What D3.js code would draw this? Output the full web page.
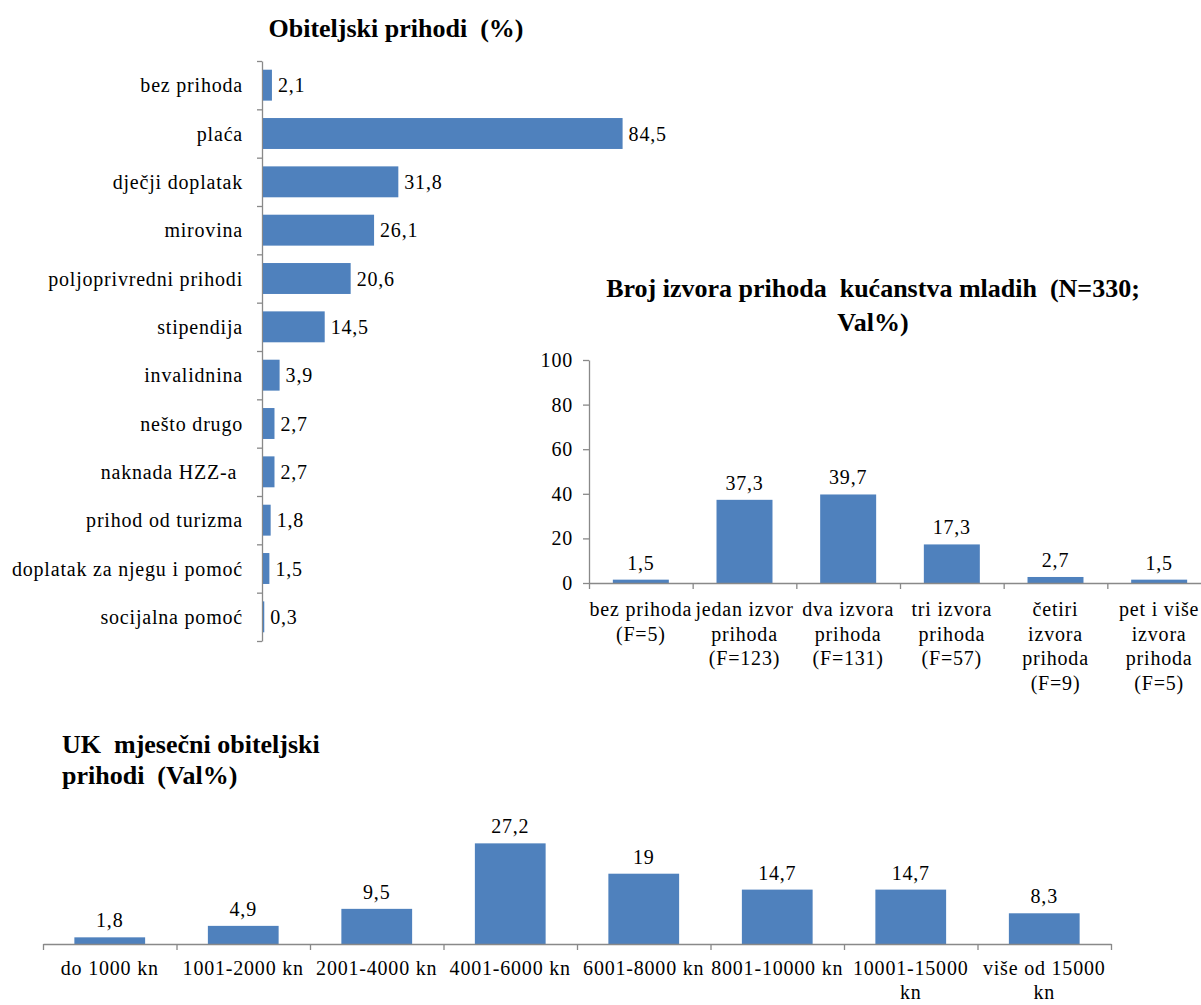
<!DOCTYPE html>
<html>
    <head>
        <meta charset="utf-8">
        <title>Obiteljski prihodi</title>
        <script type="text/javascript" src="https://cdnjs.cloudflare.com/ajax/libs/d3/7.8.5/d3.min.js"></script>
        <style>
            body { margin: 0; background: #fff; }
            .axis path, .axis line { stroke: #898989; stroke-width: 1.3; }
        </style>
    </head>
    <body>
        <script type="text/javascript">

            // chart 1: obiteljski prihodi (%)
            var incomeTypes = ["bez prihoda", "plaća", "dječji doplatak", "mirovina", "poljoprivredni prihodi",
                "stipendija", "invalidnina", "nešto drugo", "naknada HZZ-a ", "prihod od turizma",
                "doplatak za njegu i pomoć", "socijalna pomoć"];
            var incomeShare = [2.1, 84.5, 31.8, 26.1, 20.6, 14.5, 3.9, 2.7, 2.7, 1.8, 1.5, 0.3];

            // chart 2: broj izvora prihoda
            var sourceCats = [["bez prihoda", "(F=5)"], ["jedan izvor", "prihoda", "(F=123)"],
                ["dva izvora", "prihoda", "(F=131)"], ["tri izvora", "prihoda", "(F=57)"],
                ["četiri", "izvora", "prihoda", "(F=9)"], ["pet i više", "izvora", "prihoda", "(F=5)"]];
            var sourceShare = [1.5, 37.3, 39.7, 17.3, 2.7, 1.5];
            var sourceTicks = [0, 20, 40, 60, 80, 100];

            // chart 3: UK mjesecni obiteljski prihodi
            var monthlyCats = [["do 1000 kn"], ["1001-2000 kn"], ["2001-4000 kn"], ["4001-6000 kn"],
                ["6001-8000 kn"], ["8001-10000 kn"], ["10001-15000", "kn"], ["više od 15000", "kn"]];
            var monthlyShare = [1.8, 4.9, 9.5, 27.2, 19, 14.7, 14.7, 8.3];

            var barColor = "#4F81BD";
            var serif = "Liberation Serif";
            var fmt = function(v){ return String(v).replace(".", ","); };

            var svg = d3.select("body")
                .append("svg")
                .attr("width", 1201)
                .attr("height", 1005);

            // every label goes through here so the font is set on the text itself
            var label = function(sel){
                return sel.style("font-family", serif)
                    .style("font-size", "20px")
                    .style("letter-spacing", "0.8px")
                    .attr("fill", "#000");
            };

            var title = function(x, y, anchor, txt){
                svg.append("text")
                    .attr("x", x)
                    .attr("y", y)
                    .attr("text-anchor", anchor)
                    .style("font-family", serif)
                    .style("font-weight", "bold")
                    .style("font-size", "26px")
                    .style("white-space", "pre")
                    .text(txt);
            };

            // ---------- chart 1 ----------
            var x1 = d3.scaleLinear().domain([0, 90]).range([262, 645]);
            var y1 = d3.scaleBand()
                .domain(incomeTypes)
                .range([61, 641])
                .paddingInner(0.36)
                .paddingOuter(0.18);
            var y1b = d3.scaleLinear().domain([0, incomeTypes.length]).range([61, 641]);

            title(396, 37, "middle", "Obiteljski prihodi  (%)");

            svg.append("g")
                .attr("class", "axis")
                .attr("transform", "translate(262,0)")
                .call(d3.axisLeft(y1b)
                    .tickValues(d3.range(incomeTypes.length + 1))
                    .tickFormat("")
                    .tickSizeInner(5)
                    .tickSizeOuter(0));

            var g1 = svg.selectAll(".bar1")
                .data(incomeShare)
                .enter()
                .append("g")
                .attr("class", "bar1");

            g1.append("rect")
                .attr("x", x1(0) + 1)
                .attr("y", function(d, i){ return y1(incomeTypes[i]); })
                .attr("width", function(d){ return x1(d) - x1(0); })
                .attr("height", y1.bandwidth())
                .attr("fill", barColor);

            g1.append("text")
                .call(label)
                .attr("x", function(d){ return x1(d) + 7; })
                .attr("y", function(d, i){ return y1(incomeTypes[i]) + y1.bandwidth() / 2; })
                .attr("dy", "0.35em")
                .text(fmt);

            g1.append("text")
                .call(label)
                .attr("x", 243)
                .attr("y", function(d, i){ return y1(incomeTypes[i]) + y1.bandwidth() / 2; })
                .attr("dy", "0.35em")
                .attr("text-anchor", "end")
                .style("white-space", "pre")
                .text(function(d, i){ return incomeTypes[i]; });

            // ---------- chart 2 ----------
            var y2 = d3.scaleLinear().domain([0, 100]).range([583, 360]);
            var x2 = d3.scaleBand()
                .domain(d3.range(sourceCats.length))
                .range([589, 1211])
                .paddingInner(0.46)
                .paddingOuter(0.23);
            var x2b = d3.scaleLinear().domain([0, sourceCats.length]).range([589, 1211]);

            title(873, 297, "middle", "Broj izvora prihoda  kućanstva mladih  (N=330;");
            title(873, 331, "middle", "Val%)");

            svg.append("g")
                .attr("class", "axis")
                .attr("transform", "translate(589,0)")
                .call(d3.axisLeft(y2)
                    .tickValues(sourceTicks)
                    .tickSizeInner(6)
                    .tickSizeOuter(0)
                    .tickPadding(10))
                .selectAll("text")
                .call(label);

            var g2 = svg.selectAll(".bar2")
                .data(sourceShare)
                .enter()
                .append("g")
                .attr("class", "bar2");

            g2.append("rect")
                .attr("x", function(d, i){ return x2(i); })
                .attr("y", function(d){ return y2(d); })
                .attr("width", x2.bandwidth())
                .attr("height", function(d){ return y2(0) - y2(d); })
                .attr("fill", barColor);

            g2.append("text")
                .call(label)
                .attr("x", function(d, i){ return x2(i) + x2.bandwidth() / 2; })
                .attr("y", function(d){ return y2(d) - 10; })
                .attr("text-anchor", "middle")
                .text(fmt);

            svg.append("g")
                .attr("class", "axis")
                .attr("transform", "translate(0,583)")
                .call(d3.axisBottom(x2b)
                    .tickValues(d3.range(sourceCats.length + 1))
                    .tickFormat("")
                    .tickSizeInner(6)
                    .tickSizeOuter(0));

            g2.append("text")
                .call(label)
                .attr("x", function(d, i){ return x2(i) + x2.bandwidth() / 2; })
                .attr("y", 616)
                .attr("text-anchor", "middle")
                .selectAll("tspan")
                .data(function(d, i){ return sourceCats[i]; })
                .enter()
                .append("tspan")
                .attr("x", function(){ return d3.select(this.parentNode).attr("x"); })
                .attr("dy", function(d, i){ return i == 0 ? 0 : 24.5; })
                .text(function(d){ return d; });

            // ---------- chart 3 ----------
            var y3 = d3.scaleLinear().domain([0, 30]).range([944, 833]);
            var x3 = d3.scaleBand()
                .domain(d3.range(monthlyCats.length))
                .range([43, 1111])
                .paddingInner(0.47)
                .paddingOuter(0.235);
            var x3b = d3.scaleLinear().domain([0, monthlyCats.length]).range([43, 1111]);

            title(62, 753, "start", "UK  mjesečni obiteljski");
            title(62, 784, "start", "prihodi  (Val%)");

            var g3 = svg.selectAll(".bar3")
                .data(monthlyShare)
                .enter()
                .append("g")
                .attr("class", "bar3");

            g3.append("rect")
                .attr("x", function(d, i){ return x3(i); })
                .attr("y", function(d){ return y3(d); })
                .attr("width", x3.bandwidth())
                .attr("height", function(d){ return y3(0) - y3(d); })
                .attr("fill", barColor);

            g3.append("text")
                .call(label)
                .attr("x", function(d, i){ return x3(i) + x3.bandwidth() / 2; })
                .attr("y", function(d){ return y3(d) - 10; })
                .attr("text-anchor", "middle")
                .text(fmt);

            svg.append("g")
                .attr("class", "axis")
                .attr("transform", "translate(0,944)")
                .call(d3.axisBottom(x3b)
                    .tickValues(d3.range(monthlyCats.length + 1))
                    .tickFormat("")
                    .tickSizeInner(6)
                    .tickSizeOuter(0));

            g3.append("text")
                .call(label)
                .attr("x", function(d, i){ return x3(i) + x3.bandwidth() / 2; })
                .attr("y", 975)
                .attr("text-anchor", "middle")
                .selectAll("tspan")
                .data(function(d, i){ return monthlyCats[i]; })
                .enter()
                .append("tspan")
                .attr("x", function(){ return d3.select(this.parentNode).attr("x"); })
                .attr("dy", function(d, i){ return i == 0 ? 0 : 24; })
                .text(function(d){ return d; });

        </script>
    </body>
</html>
